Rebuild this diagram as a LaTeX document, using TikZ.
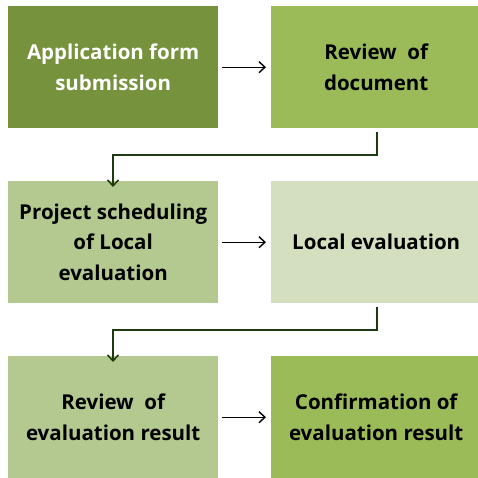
\documentclass[tikz,border=0pt]{standalone}
\usepackage{fontspec}
\setmainfont{Open Sans}
\usetikzlibrary{arrows.meta}
\definecolor{gA}{HTML}{76923C}
\definecolor{gB}{HTML}{9BBB59}
\definecolor{gC}{HTML}{B3C990}
\definecolor{gD}{HTML}{D3DFBE}
\definecolor{lineG}{HTML}{1E3A10}
\tikzset{
  box/.style={minimum width=210pt, minimum height=122pt, inner sep=0pt, align=center, font=\bfseries\fontsize{20.5}{30.5}\selectfont, anchor=north west},
  harrow/.style={draw=black, line width=1.4pt, -{Straight Barb[length=6pt,width=11pt,line width=1.4pt]}},
  elbow/.style={draw=lineG, line width=1.5pt, -{Straight Barb[length=6pt,width=11pt,line width=1.5pt]}}
}
\begin{document}
\begin{tikzpicture}[x=1pt,y=-1pt]
\useasboundingbox (0,0) rectangle (478,477);
\begin{scope}
\clip (0,0) rectangle (478,477);
\node[box, fill=gA, text=white] (b1) at (8,6) {Application form\\submission};
\node[box, fill=gB] (b2) at (271,6) {Review\ \ of\\document};
\node[box, fill=gC] (b3) at (8,181) {Project scheduling\\of Local\\evaluation};
\node[box, fill=gD] (b4) at (271,181) {Local evaluation};
\node[box, fill=gC] (b5) at (8,356) {Review\ \ of\\evaluation result};
\node[box, fill=gB] (b6) at (271,356) {Confirmation of\\evaluation result};
\end{scope}
\coordinate (c1) at (377,155);
\coordinate (c2) at (113,155);
\coordinate (c3) at (377,330);
\coordinate (c4) at (113,330);
\draw[harrow] ([xshift=4pt]b1.east) -- ([xshift=-5pt]b2.west);
\draw[harrow] ([xshift=4pt]b3.east) -- ([xshift=-5pt]b4.west);
\draw[harrow] ([xshift=4pt]b5.east) -- ([xshift=-5pt]b6.west);
\draw[elbow] (b2.south -| c1) ++(0,4) |- (c2) -- ([yshift=-6pt]b3.north -| c2);
\draw[elbow] (b4.south -| c3) ++(0,4) |- (c4) -- ([yshift=-6pt]b5.north -| c4);
\end{tikzpicture}
\end{document}
